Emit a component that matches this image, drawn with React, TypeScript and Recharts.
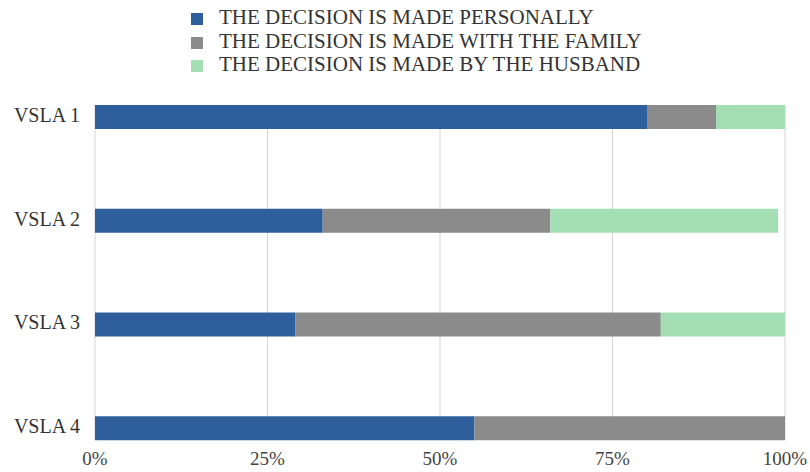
import { BarChart, Bar, XAxis, YAxis, CartesianGrid, Legend } from 'recharts';

// categories and series (percent of women, per VSLA)
const categories = ['VSLA 1', 'VSLA 2', 'VSLA 3', 'VSLA 4'];
const personally = [80, 33, 29, 55];
const withFamily = [10, 33, 53, 45];
const byHusband = [10, 33, 18, 0];
const xTicks = [0, 25, 50, 75, 100];

const SERIES = [
    { key: 'personally', name: 'THE DECISION IS MADE PERSONALLY', color: '#2E5F9C' },
    { key: 'family', name: 'THE DECISION IS MADE WITH THE FAMILY', color: '#8B8B8B' },
    { key: 'husband', name: 'THE DECISION IS MADE BY THE HUSBAND', color: '#A4DFB3' },
];

const data = categories.map((name, i) => ({
    name,
    personally: personally[i],
    family: withFamily[i],
    husband: byHusband[i],
}));

const FONT = '"Liberation Serif", "Times New Roman", serif';

const TopLegend = () => (
    <div style={{ position: 'absolute', left: 191, top: 6, fontFamily: FONT, fontSize: 21, color: '#333' }}>
        {SERIES.map((s) => (
            <div key={s.key} style={{ display: 'flex', alignItems: 'center', height: 23.5 }}>
                <span style={{ width: 12, height: 12, background: s.color, display: 'inline-block', marginRight: 16, marginTop: 3 }} />
                <span style={{ lineHeight: '23px' }}>{s.name}</span>
            </div>
        ))}
    </div>
);

export default function App() {
    return (
        <div style={{ position: 'relative', width: 810, height: 472, background: '#fff' }}>
            <style>{`body{margin:0}`}</style>
            <BarChart
                width={810}
                height={472}
                data={data}
                layout="vertical"
                margin={{ top: 105, right: 25, left: 0, bottom: 0 }}
                barSize={24}
            >
                <CartesianGrid horizontal={false} stroke="#D4D4D4" />
                <XAxis
                    type="number"
                    domain={[0, 100]}
                    ticks={xTicks}
                    tickFormatter={(v) => `${v}%`}
                    axisLine={false}
                    tickLine={false}
                    tickSize={0}
                    tickMargin={12}
                    height={32}
                    interval={0}
                    tick={{ fill: '#444', fontSize: 19, fontFamily: FONT }}
                />
                <YAxis
                    type="category"
                    dataKey="name"
                    width={95}
                    axisLine={false}
                    tickLine={false}
                    tickSize={0}
                    tickMargin={15}
                    padding={{ top: -40, bottom: -40 }}
                    tick={{ fill: '#333', fontSize: 20, fontFamily: FONT, dy: -2 }}
                />
                <Legend content={() => null} />
                {SERIES.map((s) => (
                    <Bar key={s.key} dataKey={s.key} name={s.name} stackId="a" fill={s.color} isAnimationActive={false} />
                ))}
            </BarChart>
            <TopLegend />
        </div>
    );
}
